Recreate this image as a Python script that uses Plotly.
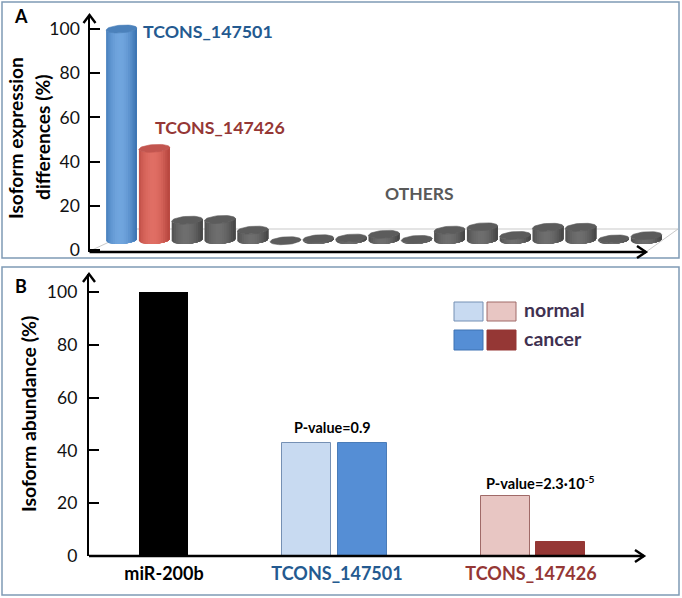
import math
import plotly.graph_objects as go

W, H = 682, 598
FONT = "Lato"

# ---------- data ----------
TICKS = [0, 20, 40, 60, 80, 100]
# Panel A: isoform expression differences (%), one value per isoform
isoform_blue = [100]
isoform_red = [46]
isoform_others = [13.5, 13.8, 9, 4.2, 5.1, 5.4, 7.1, 4.8, 9, 10.5, 6.6, 10.3, 10.3, 5, 6.5]
# Panel B: isoform abundance (%)
categories = ["miR-200b", "TCONS_147501", "TCONS_147426"]
mir_value = [100]
tcons501_values = [42.7, 42.7]   # normal, cancer
tcons426_values = [22.7, 5.2]    # normal, cancer
legend_labels = ["normal", "cancer"]

BLUE_TXT, RED_TXT = "#245a90", "#953735"


def px(x):
    return x / W


def py(y):
    return 1 - y / H


# ---------- axes geometry ----------
A_LEFT, A_RIGHT, A_BOTTOM, A_TOP = 89.5, 680, 252, 15
A_UNIT = 2.21
A_ZERO = 250
A_FIRST, A_STEP = 121.5, 32.8
B_LEFT, B_RIGHT, B_BOTTOM, B_TOP = 89, 643, 556, 274
B_UNIT = 2.64


def shade(c1, c2, t):
    return "#" + "".join(f"{round(a + (b - a) * t):02x}" for a, b in zip(c1, c2))


def mix_profile(u):
    # u runs -1..1 over the cylinder width; brightest left of centre
    return max(0.0, 1 - abs(u + 0.1) ** 2)


def cylinders(indices, values, edge, mid, top):
    traces = []
    half = 0.47
    base = 4.5
    e = 1.75
    tilt = 0.45
    bands = 14
    for b in range(bands):
        u0 = -1 + 2 * b / bands
        u1 = -1 + 2 * (b + 1) / bands
        xs, ys = [], []
        for i, v in zip(indices, values):
            h = max(v, base)
            # each band runs on to the right edge; the next band paints over it, so no seams
            n = 16
            us = [u0 + (1 - u0) * k / n for k in range(n + 1)]
            low = [base - e * math.sqrt(max(0, 1 - u * u)) + tilt * u for u in us]
            up = [h - e * math.sqrt(max(0, 1 - u * u)) + tilt * u for u in us]
            xs += [i + half * u for u in us] + [i + half * u for u in reversed(us)] + [i + half * u0, None]
            ys += low + list(reversed(up)) + [low[0], None]
        col = shade(edge, mid, mix_profile((u0 + u1) / 2))
        traces.append(go.Scatter(x=xs, y=ys, mode="lines", fill="toself", fillcolor=col,
                                 line=dict(color=col, width=0), hoverinfo="skip",
                                 showlegend=False, xaxis="x", yaxis="y"))
    xs, ys = [], []
    for i, v in zip(indices, values):
        for k in range(41):
            t = 2 * math.pi * k / 40
            u = math.cos(t)
            xs.append(i + half * u)
            ys.append(v + e * math.sin(t) + tilt * u)
        xs.append(None)
        ys.append(None)
    traces.append(go.Scatter(x=xs, y=ys, mode="lines", fill="toself", fillcolor=top,
                             line=dict(color=top, width=0.6), hoverinfo="skip",
                             showlegend=False, xaxis="x", yaxis="y"))
    return traces


fig = go.Figure()

for tr in cylinders([0], isoform_blue, (62, 118, 180), (112, 165, 222), "#4b81bb"):
    fig.add_trace(tr)
for tr in cylinders([1], isoform_red, (185, 72, 64), (224, 110, 100), "#c2554f"):
    fig.add_trace(tr)
other_idx = list(range(2, 2 + len(isoform_others)))
for tr in cylinders(other_idx, isoform_others, (72, 72, 72), (110, 110, 110), "#5c5c5c"):
    fig.add_trace(tr)

bar_w = 49
fig.add_trace(go.Bar(x=[163.5], y=mir_value, width=bar_w, marker=dict(color="#000000", line=dict(width=0)),
                     xaxis="x2", yaxis="y2", showlegend=False, name=categories[0]))
fig.add_trace(go.Bar(x=[306, 505], y=[tcons501_values[0], tcons426_values[0]], width=bar_w,
                     marker=dict(color=["#c8daf1", "#e8c6c3"],
                                 line=dict(color=["#7590b4", "#a06a68"], width=1)),
                     xaxis="x2", yaxis="y2", showlegend=False, name=legend_labels[0]))
fig.add_trace(go.Bar(x=[362.5, 560.5], y=[tcons501_values[1], tcons426_values[1]], width=bar_w,
                     marker=dict(color=["#558ed5", "#953735"],
                                 line=dict(color=["#4a7cb8", "#953735"], width=1)),
                     xaxis="x2", yaxis="y2", showlegend=False, name=legend_labels[1]))

shapes = []
FRAME = "#7f9ab5"
for x0, y0, x1, y1 in [(2, 2, 679, 258), (2, 267, 679, 595)]:
    shapes.append(dict(type="rect", xref="paper", yref="paper", x0=px(x0), x1=px(x1), y0=py(y0), y1=py(y1),
                       line=dict(color=FRAME, width=1.5), layer="below"))
FLOOR = "#c9c9c9"
for x0, y0, x1, y1 in [(92, 250, 137, 229), (137, 229, 678, 229), (646, 252, 678, 229)]:
    shapes.append(dict(type="line", xref="paper", yref="paper", x0=px(x0), x1=px(x1), y0=py(y0), y1=py(y1),
                       line=dict(color=FLOOR, width=1), layer="below"))
for x0, y0, x1, y1, fc, lc in [
    (454, 302, 483, 321, "#c8daf1", "#7590b4"),
    (487, 302, 516, 321, "#e8c6c3", "#a06a68"),
    (454, 330, 483, 350, "#558ed5", "#3f73b3"),
    (487, 330, 516, 350, "#953735", "#953735"),
]:
    shapes.append(dict(type="rect", xref="paper", yref="paper", x0=px(x0), x1=px(x1), y0=py(y0), y1=py(y1),
                       fillcolor=fc, line=dict(color=lc, width=1)))


def axis_arrow_x(x0, x1, y):
    stem = dict(type="line", xref="paper", yref="paper", x0=px(x0), x1=px(x1), y0=py(y), y1=py(y),
                line=dict(color="#000000", width=2.4))
    head = dict(type="path", xref="paper", yref="paper",
                path=f"M {px(x1 - 9)},{py(y - 6)} L {px(x1)},{py(y)} L {px(x1 - 9)},{py(y + 6)}",
                line=dict(color="#000000", width=2.4))
    return [stem, head]


def axis_arrow_y(x, y1):
    return [dict(type="path", xref="paper", yref="paper",
                 path=f"M {px(x - 6)},{py(y1 + 8)} L {px(x)},{py(y1)} L {px(x + 6)},{py(y1 + 8)}",
                 line=dict(color="#000000", width=2.4))]


shapes += axis_arrow_x(89.5, 646, 252) + axis_arrow_y(89.5, 15)
shapes += axis_arrow_x(89, 644, 556) + axis_arrow_y(89, 274)


def text(x, y, s, size, color="#000000", bold=True, angle=0, anchor="center"):
    return dict(xref="paper", yref="paper", x=px(x), y=py(y), text=f"<b>{s}</b>" if bold else s,
                showarrow=False, xanchor=anchor, yanchor="middle", textangle=angle,
                font=dict(family=FONT, size=size, color=color), align="center")


annotations = [
    text(21, 16, "A", 18),
    text(21, 286, "B", 18),
    text(141, 31, "TCONS_147501", 17.8, BLUE_TXT, anchor="left"),
    text(153, 127, "TCONS_147426", 17.8, RED_TXT, anchor="left"),
    text(419, 193, "OTHERS", 17.5, "#595959"),
    text(15, 138, "Isoform expression", 19.2, angle=-90),
    text(42, 138, "differences (%)", 19.2, angle=-90),
    text(28, 414, "Isoform abundance (%)", 19.4, angle=-90),
    text(332, 427, "P-value=0.9", 14.4),
    text(540, 482, "P-value=2.3·10<sup>-5</sup>", 14.6),
    text(522, 309, legend_labels[0], 19.5, "#3f3151", anchor="left"),
    text(522, 338, legend_labels[1], 19.5, "#3f3151", anchor="left"),
]

tick_font = dict(family=FONT, size=17.5, color="#111111")
lab = [
    f"<b><span style='color:#000000'>{categories[0]}</span></b>",
    f"<b><span style='color:{BLUE_TXT}'>{categories[1]}</span></b>",
    f"<b><span style='color:{RED_TXT}'>{categories[2]}</span></b>",
]

fig.update_layout(
    width=W, height=H, autosize=False,
    margin=dict(l=0, r=0, t=0, b=0, pad=0, autoexpand=False),
    paper_bgcolor="#ffffff", plot_bgcolor="rgba(0,0,0,0)",
    showlegend=False, shapes=shapes, annotations=annotations,
    bargap=0,
    xaxis=dict(domain=[px(A_LEFT), px(A_RIGHT)], anchor="y",
               range=[(A_LEFT - A_FIRST) / A_STEP, (A_RIGHT - A_FIRST) / A_STEP],
               showticklabels=False, ticks="", showgrid=False, zeroline=False, showline=False),
    yaxis=dict(domain=[py(A_BOTTOM), py(A_TOP)], anchor="x",
               range=[(A_ZERO - A_BOTTOM) / A_UNIT, (A_ZERO - A_TOP) / A_UNIT],
               tickvals=TICKS, ticks="inside", ticklen=10, tickwidth=2, tickcolor="#000000",
               showgrid=False, zeroline=False, showline=True, linecolor="#000000", linewidth=2.4,
               tickfont=tick_font, ticklabelstandoff=4),
    xaxis2=dict(domain=[px(B_LEFT), px(B_RIGHT)], anchor="y2", range=[B_LEFT, B_RIGHT],
                tickvals=[164, 337, 531], ticktext=lab, ticks="", showgrid=False, zeroline=False,
                showline=False, tickfont=dict(family=FONT, size=18, color="#000000"), ticklabelstandoff=5),
    yaxis2=dict(domain=[py(B_BOTTOM), py(B_TOP)], anchor="x2",
                range=[0, (B_BOTTOM - B_TOP) / B_UNIT],
                tickvals=TICKS, ticks="inside", ticklen=10, tickwidth=2, tickcolor="#000000",
                showgrid=False, zeroline=False, showline=True, linecolor="#000000", linewidth=2.4,
                tickfont=tick_font, ticklabelstandoff=6),
)

fig.write_html("out.html", post_script="document.body.style.margin='0';document.body.style.overflow='hidden';",
               config={"displayModeBar": False})
